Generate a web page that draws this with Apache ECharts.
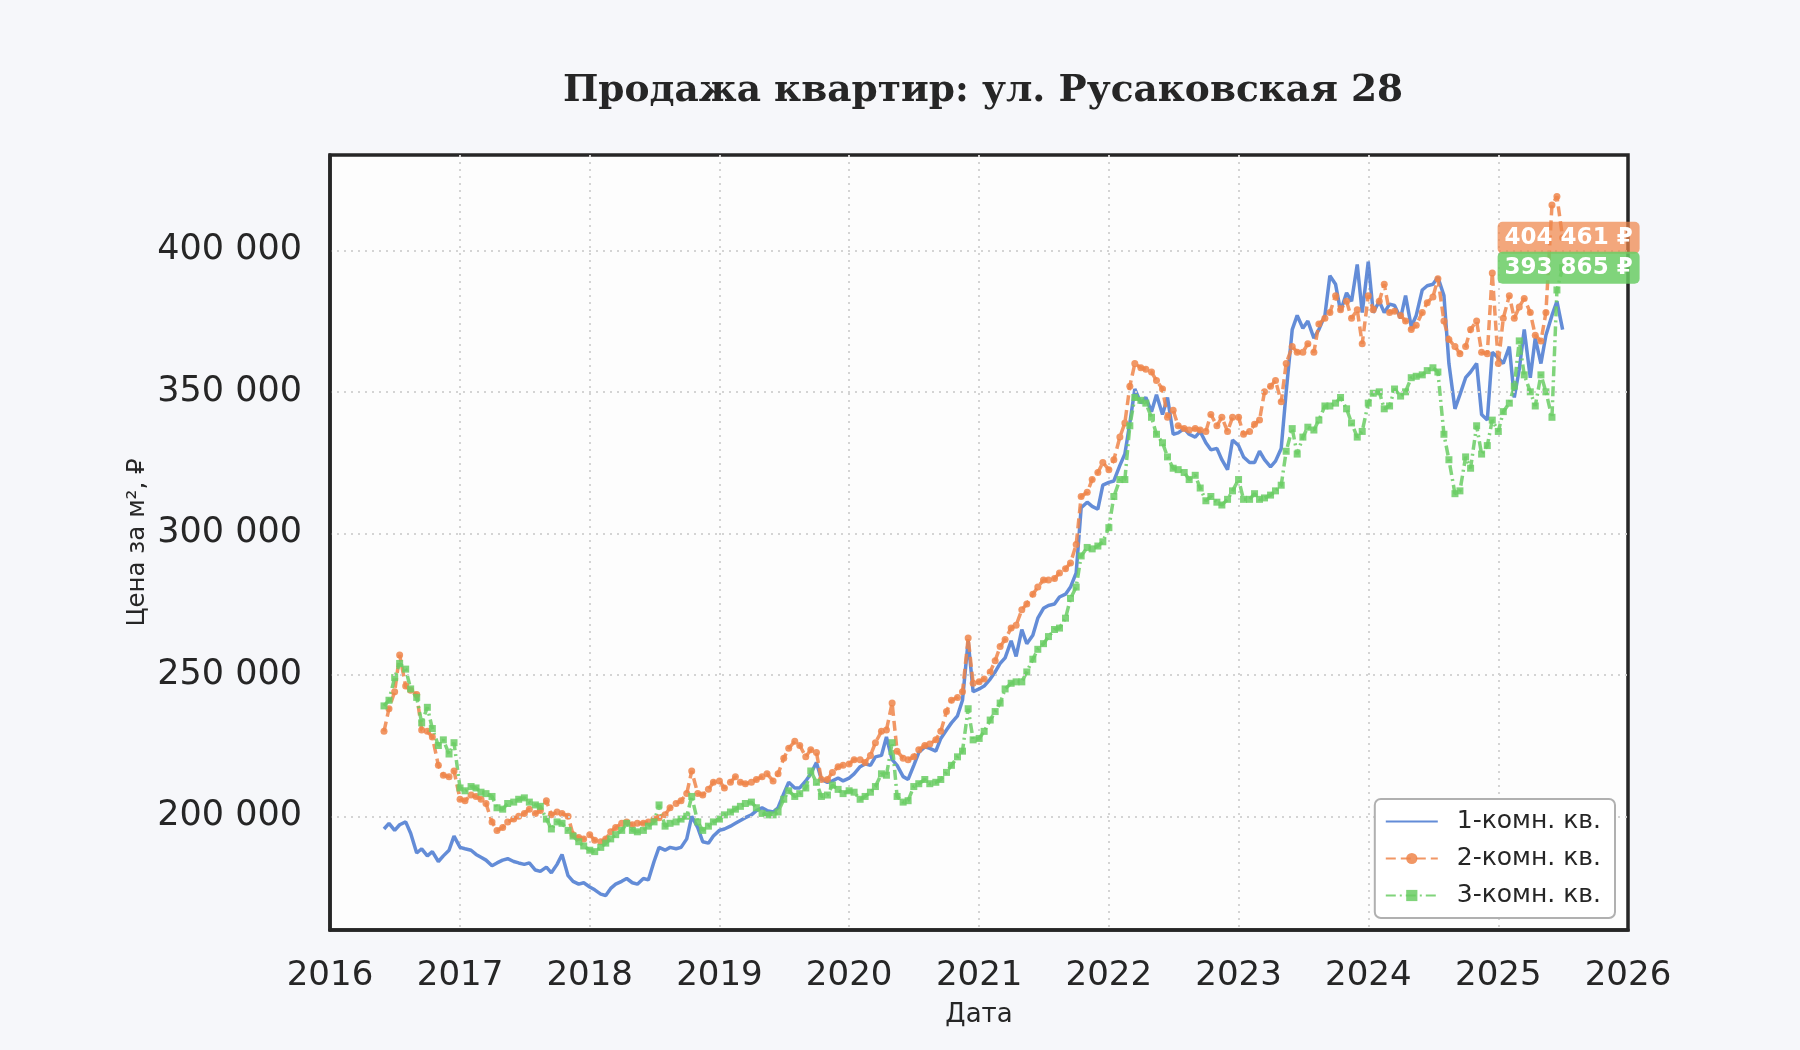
<!DOCTYPE html>
<html><head><meta charset="utf-8">
<script src="https://cdn.jsdelivr.net/npm/echarts@6/dist/echarts.min.js"></script>
<style>html,body{margin:0;padding:0;background:#f6f7fa;}#chart{width:1800px;height:1050px;}</style>
</head><body><div id="chart"></div>
<script>
// Categories / series names
const seriesNames = ['1-комн. кв.', '2-комн. кв.', '3-комн. кв.'];
const firstDate = '2016-06-01';
const lastDate = '2025-07-01';
const yearTicks = [2016, 2017, 2018, 2019, 2020, 2021, 2022, 2023, 2024, 2025, 2026];
const UNIT = 1000; // values below are in thousands of rubles per m², sampled on the 1st and 15th of each month

const oneRoom = [
  195.5,197.5,195,197,198,194,187,188.5,186,187.5,184,186,188,193,
  189,188.5,188,186.5,185.5,184.5,182.5,183.5,184.5,185,184,183.5,183,183.5,181,180.5,182,180,183,186.5,179,177,176,176.5,
  175,174,172.5,172,174.5,176,177,178,176.5,176,178,177.5,184,189,188,189,188.5,189,192,200,196,191,190.5,193,
  195,195.5,196.5,197.5,198.5,199.5,200.5,202,203,202,201.5,203,208,212,210,210,212.5,215,219,213,212,212.5,213.5,212.5,
  213.5,215,217.5,218.5,218,221,221.5,228,220,218,214,213,218,222.5,224.5,224,223,227.5,230.5,233,235.5,241,262,244,
  245,246,248.5,251,254,256,262,256.5,266,261,264,270,273.5,274.5,275,277.5,278.5,281,286,309,311,309.5,308.5,317,
  318,318.5,324,328,339,351,346,348,343,349,342,348,335,335.5,337,335,334,336,332,329.5,330,326,322.5,333,
  331,327,325,325,329,326,323.5,325.5,330,350,372,377,372.5,375,369,372,377,391,388,378.5,385,382,395,378,
  396,378,382,378,381,380.5,376,384,373,377,386,387.5,388,390.5,384,360,344,349,355,357,360,342,340,364,
  362,360,366,348,358,372,355,369,360,370,377,382,372
];
const twoRoom = [
  230,238,244,257,246,244.5,243,230.5,230,228,218,214.5,214,216,
  206,205.5,207.5,207,206,204.5,198,195,196,198,199,200,201,202.5,201,202,205.5,200.5,201.5,201,200,193.5,192.5,192,
  193.5,191.5,191,192,194.5,196,197.5,198,197,197.5,197.5,198,199,199.5,200.5,203,204.5,205.5,208,216,208,207.5,209.5,212,
  212.5,210,212,214,212,211.5,212,213,214,215,212.5,215,220.5,224,226.5,225,221,223.5,222.5,213,213,215.5,217.5,218,
  218.5,220,220,219,221.5,226,230,230.5,240,223,220.5,220,221,223.5,225,225.5,227,230,237,241,242,244,263,247,
  247.5,248.5,251,255,260,262.5,266.5,267.5,273,275,278.5,281,283.5,283.5,284,286,287.5,289.5,296,313,314.5,319,321.5,325,
  322.5,326,334,339,352,360,358.5,358,357,354,351,341,343.5,338,337,336.5,337,336.5,336,342,338,341,336,341,
  341,335,336,338.5,340,350,352,354,346.5,360,366,364,364,367,364,374,376,378,384,379,382,376,379,367,
  384,379,382,388,378,378.5,377,375,372,373.5,378,381.5,383.5,390,375,368.5,366,363.5,366,372,375,364,363.5,392,
  360,376,384,376,380,383,378,370,368,378,416,419,404.461
];
const threeRoom = [
  239,241,249,254,252,245,242,233,238.5,231,225,227,222,226,
  210,209,210.5,210,208.5,208,207,203,202.5,204.5,205,206,206.5,205,204,203.5,199,195.5,198,197.5,195,193,191,189.5,
  188,187.5,189,190.5,192,193.5,195,197.5,195,194.5,195,196.5,198,204,196.5,197.5,198,199,200,207,198,195,196.5,198,
  199,200.5,201.5,202.5,203.5,204.5,205,203,201,200.5,200.5,201.5,206,209,207,208,210,216,212,207,207.5,211,209.5,208,
  209,208.5,206,207,208.5,210.5,215,214.5,226,207,205,205.5,210.5,211.5,213,211.5,212,213,215.5,218,221,223,238,227,
  227.5,230,234,237,240,245,247,247.5,247.5,251,255.5,259,261,263.5,266,266.5,270,277,281,292,295,294.5,295.5,297,
  302,313,319,319,338,348,347,346,341,335,332,327,323,322.5,321.5,319,320.5,316,311.5,313,311,310,312,315,
  319,312,312,314,312,312.5,313.5,315,317,329,337,328,334,337.5,336.5,340,345,345,346,348,344,339,334,336,
  346,349.5,350,344,345,351,348.5,350,355,355.5,356,357.5,358.5,357,335,326,314,315,327,323,338,328,331,340,
  336,343,346,352,368,356,350,345,356,350,341,386,393.865
];

// sampling dates: 1st and 15th of each month
const dates = [];
for (let y = 2016; y <= 2025; y++) {
  for (let m = 1; m <= 12; m++) {
    for (const d of [1, 15]) {
      const s = y + '-' + String(m).padStart(2, '0') + '-' + String(d).padStart(2, '0');
      if (s >= firstDate && s <= lastDate) dates.push(s);
    }
  }
}

const fmt = n => String(Math.round(n)).replace(/\B(?=(\d{3})+(?!\d))/g, ' ');
const toData = vals => dates.map((d, i) => [d, vals[i] * UNIT]);

const FONT = 'DejaVu Sans';
const colors = ['#4878d0', '#ee854a', '#6acc64'];
const boxPath = 'path://M5,0 H135 A5,5 0 0 1 140,5 V27 A5,5 0 0 1 135,32 H5 A5,5 0 0 1 0,27 V5 A5,5 0 0 1 5,0 Z';

function lastMark(vals, bg) {
  const i = vals.length - 1;
  const v = vals[i] * UNIT;
  return {
    silent: true,
    symbol: boxPath,
    symbolKeepAspect: false,
    symbolSize: [142, 32],
    symbolOffset: [6, 0],
    itemStyle: { color: bg },
    label: { show: true, color: '#ffffff', fontFamily: FONT, fontWeight: 'bold', fontSize: 23,
      formatter: p => fmt(p.value) + ' ₽' },
    data: [{ coord: [dates[i], v], value: v }]
  };
}

const gridLine = { show: true, showMinLine: false, showMaxLine: false,
  lineStyle: { color: '#d4d4d4', width: 2, type: [2, 5] } };
const frameLine = { show: true, lineStyle: { color: '#262626', width: 3.5 } };

const chart = echarts.init(document.getElementById('chart'));
chart.setOption({
  backgroundColor: '#f6f7fa',
  animation: false,
  title: {
    text: 'Продажа квартир: ул. Русаковская 28',
    left: 978, top: 67, textAlign: 'center',
    textStyle: { fontFamily: 'DejaVu Serif', fontWeight: 'bold', fontSize: 37.5, color: '#262626' }
  },
  grid: {
    left: 330, right: 172, top: 155, bottom: 120,
    show: true, backgroundColor: '#fdfdfd', borderColor: '#262626', borderWidth: 3.5
  },
  legend: {
    z: 20,
    orient: 'vertical', right: 185, bottom: 132,
    data: [
      { name: seriesNames[0], itemStyle: { opacity: 0 } },
      { name: seriesNames[1] },
      { name: seriesNames[2] }
    ],
    backgroundColor: '#ffffff', borderColor: '#b0b0b0', borderWidth: 2, borderRadius: 6,
    padding: [10, 14, 10, 10], itemGap: 12, itemWidth: 52, itemHeight: 14,
    textStyle: { fontFamily: FONT, fontSize: 25, color: '#262626', padding: [0, 0, 0, 14] }
  },
  xAxis: {
    type: 'time', z: 1,
    min: yearTicks[0] + '-01-01', max: yearTicks[yearTicks.length - 1] + '-01-01',
    splitNumber: 10,
    minInterval: 360 * 86400000, maxInterval: 370 * 86400000,
    name: 'Дата', nameLocation: 'middle', nameGap: 72, nameMoveOverlap: false,
    nameTextStyle: { fontFamily: FONT, fontSize: 26, color: '#262626' },
    axisLine: frameLine, axisTick: { show: false },
    axisLabel: { fontFamily: FONT, fontSize: 34, color: '#262626', margin: 29,
      showMinLabel: true, showMaxLabel: true,
      formatter: v => String(new Date(v).getFullYear()) },
    splitLine: gridLine
  },
  yAxis: {
    type: 'value', z: 5,
    min: 159800, max: 433700, splitNumber: 6,
    name: 'Цена за м², ₽', nameLocation: 'middle', nameGap: 180, nameRotate: 90, nameMoveOverlap: false,
    nameTextStyle: { fontFamily: FONT, fontSize: 24.5, color: '#262626' },
    axisLine: frameLine, axisTick: { show: false },
    axisLabel: { fontFamily: FONT, fontSize: 35, color: '#262626', margin: 28,
      showMinLabel: false, showMaxLabel: false,
      formatter: v => (v % 50000 === 0 ? fmt(v) : '') },
    splitLine: gridLine
  },
  series: [
    { name: seriesNames[0], type: 'line', data: toData(oneRoom), symbol: 'none',
      color: colors[0], lineStyle: { width: 3.5, opacity: 0.85 } },
    { name: seriesNames[1], type: 'line', data: toData(twoRoom), symbol: 'circle', symbolSize: 7,
      color: colors[1], itemStyle: { opacity: 0.85 }, lineStyle: { width: 3.5, type: [10, 5], opacity: 0.85 },
      markPoint: lastMark(twoRoom, 'rgba(238,133,74,0.72)') },
    { name: seriesNames[2], type: 'line', data: toData(threeRoom), symbol: 'rect', symbolSize: 7,
      color: colors[2], itemStyle: { opacity: 0.85 }, lineStyle: { width: 3.5, type: [10, 4, 2, 4], opacity: 0.85 },
      markPoint: lastMark(threeRoom, 'rgba(106,204,100,0.85)') }
  ]
});
</script></body></html>
